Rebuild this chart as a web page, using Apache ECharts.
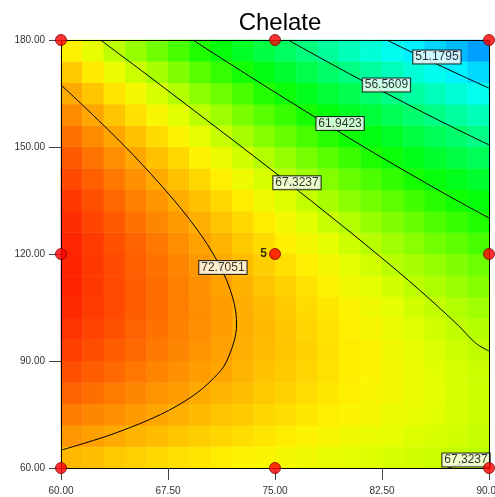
<!DOCTYPE html>
<html>
<head>
<meta charset="utf-8">
<script src="https://cdn.jsdelivr.net/npm/echarts@6/dist/echarts.min.js"></script>
<style>
html,body{margin:0;padding:0;background:#fff;}
#chart{width:495px;height:497px;}
</style>
</head>
<body>
<div id="chart"></div>
<script>
// ---- Data ----
const title = 'Chelate';
const xTicks = [60, 67.5, 75, 82.5, 90];
const yTicks = [60, 90, 120, 150, 180];
// heat-map cell centres (x: factor A, y: factor B)
const xCells = [60.75,62.25,63.75,65.25,66.75,68.25,69.75,71.25,72.75,74.25,75.75,77.25,78.75,80.25,81.75,83.25,84.75,86.25,87.75,89.25];
const yCells = [63,69,75,81,87,93,99,105,111,117,123,129,135,141,147,153,159,165,171,177];
// response values, one row per yCell (bottom to top), one value per xCell (left to right)
const zRows = [
 [72.1,71.8,71.4,71.1,70.8,70.5,70.3,70.0,69.7,69.5,69.2,69.0,68.7,68.5,68.3,68.1,67.9,67.7,67.5,67.3],
 [73.3,73.0,72.6,72.2,71.9,71.5,71.2,70.9,70.6,70.3,70.0,69.7,69.4,69.1,68.8,68.6,68.3,68.1,67.9,67.6],
 [74.4,74.0,73.6,73.2,72.8,72.4,72.0,71.6,71.3,70.9,70.6,70.2,69.9,69.6,69.3,68.9,68.7,68.4,68.1,67.8],
 [75.3,74.9,74.4,74.0,73.5,73.1,72.6,72.2,71.8,71.4,71.0,70.6,70.2,69.9,69.5,69.2,68.8,68.5,68.1,67.8],
 [76.1,75.6,75.1,74.6,74.1,73.6,73.1,72.7,72.2,71.7,71.3,70.9,70.4,70.0,69.6,69.2,68.8,68.4,68.1,67.7],
 [76.8,76.2,75.6,75.1,74.5,74.0,73.5,73.0,72.4,71.9,71.5,71.0,70.5,70.0,69.6,69.1,68.7,68.2,67.8,67.4],
 [77.2,76.6,76.0,75.4,74.8,74.2,73.7,73.1,72.5,72.0,71.5,70.9,70.4,69.9,69.4,68.9,68.4,67.9,67.4,67.0],
 [77.6,76.9,76.3,75.6,75.0,74.3,73.7,73.1,72.5,71.9,71.3,70.7,70.2,69.6,69.0,68.5,67.9,67.4,66.9,66.4],
 [77.8,77.0,76.3,75.6,75.0,74.3,73.6,72.9,72.3,71.6,71.0,70.4,69.7,69.1,68.5,67.9,67.3,66.8,66.2,65.6],
 [77.8,77.0,76.3,75.5,74.8,74.1,73.3,72.6,71.9,71.2,70.5,69.9,69.2,68.5,67.9,67.2,66.6,66.0,65.4,64.8],
 [77.7,76.9,76.1,75.3,74.5,73.7,72.9,72.2,71.4,70.7,69.9,69.2,68.5,67.8,67.1,66.4,65.7,65.0,64.4,63.7],
 [77.4,76.5,75.7,74.8,74.0,73.2,72.4,71.6,70.8,70.0,69.2,68.4,67.6,66.9,66.1,65.4,64.7,63.9,63.2,62.5],
 [77.0,76.1,75.2,74.3,73.4,72.5,71.7,70.8,70.0,69.1,68.3,67.5,66.6,65.8,65.0,64.3,63.5,62.7,61.9,61.2],
 [76.4,75.5,74.5,73.6,72.6,71.7,70.8,69.9,69.0,68.1,67.2,66.4,65.5,64.6,63.8,63.0,62.1,61.3,60.5,59.7],
 [75.7,74.7,73.7,72.7,71.7,70.8,69.8,68.8,67.9,67.0,66.0,65.1,64.2,63.3,62.4,61.5,60.6,59.8,58.9,58.1],
 [74.8,73.8,72.7,71.7,70.7,69.6,68.6,67.6,66.6,65.6,64.7,63.7,62.7,61.8,60.9,59.9,59.0,58.1,57.2,56.3],
 [73.8,72.7,71.6,70.5,69.4,68.4,67.3,66.3,65.2,64.2,63.2,62.1,61.1,60.1,59.2,58.2,57.2,56.2,55.3,54.3],
 [72.6,71.5,70.3,69.2,68.1,67.0,65.8,64.8,63.7,62.6,61.5,60.4,59.4,58.3,57.3,56.3,55.2,54.2,53.2,52.2],
 [71.3,70.1,68.9,67.7,66.6,65.4,64.2,63.1,62.0,60.8,59.7,58.6,57.5,56.4,55.3,54.2,53.1,52.1,51.0,50.0],
 [69.8,68.6,67.3,66.1,64.9,63.7,62.5,61.3,60.1,58.9,57.7,56.6,55.4,54.3,53.1,52.0,50.9,49.8,48.7,47.6]
];
// contour lines (points traced on the picture)
const contour72 = [[60,167.4],[61.97,160],[64.52,150],[66.85,140],[68.95,130],[70.67,120],[71.86,110],[72.31,100.4],[71.62,90],[70.65,85],[69.16,80],[66.98,75],[63.96,70],[61.68,67],[60,65.0]];
const contour67 = [[62.77,180],[66.11,170],[69.40,160],[72.68,150],[75.91,140],[79.07,130],[82.15,120],[85.10,110],[87.84,100],[89.07,95],[90,92.8]];
const contour67b = [[87.14,60],[88.65,62],[90,64.3]];
const contour62 = [[69.24,180],[73.15,170],[77.15,160],[81.24,150],[85.53,140],[87.75,135],[90,130.1]];
const contour57 = [[75.92,180],[80.46,170],[85.24,160],[87.73,155],[90,150.6]];
const contour51 = [[82.83,180],[85.41,175],[88.08,170],[90,166.5]];
// contour label anchors [x, y, text]
const contourLabels = [
  [86.35,175.2,'51.1795'],
  [82.81,167.4,'56.5609'],
  [79.56,156.6,'61.9423'],
  [76.54,140.0,'67.3237'],
  [71.35,116.2,'72.7051'],
  [88.39,62.25,'67.3237']
];
// design points
const designPts = [[60,60],[60,120],[60,180],[75,60],[75,180],[90,60],[90,120],[90,180]];
const centerPt = [[75,120,'5']];
// colour ramp: evenly spaced stops from colorMin to colorMax (blue -> cyan -> green -> yellow -> red)
const colorMin = 41, colorMax = 78.5;
const colorRamp = [
  '#0000ff','#001eff','#003dff','#005bff','#0079ff','#0098ff','#00b6ff','#00d4ff','#00f3ff',
  '#00ffec','#00ffcc','#00ffac','#00ff8c','#00ff6c','#00ff4c','#00ff2d','#00ff0d',
  '#18ff00','#41ff00','#6aff00','#93ff00','#bcff00','#e5ff00',
  '#fff300','#ffd300','#ffb300','#ff9300','#ff7300','#ff5200','#ff3200','#ff1200'
];

// ---- Chart ----
const FONT = 'Liberation Sans, Arial, sans-serif';
const heatData = [];
zRows.forEach((row, j) => row.forEach((v, i) => heatData.push([i, j, v])));

function contourSeries(pts) {
  return {
    type: 'line', data: pts, xAxisIndex: 0, yAxisIndex: 0,
    symbol: 'none', smooth: 0.35, silent: true, z: 3,
    lineStyle: { color: '#000', width: 1 }
  };
}

const chart = echarts.init(document.getElementById('chart'), null, { renderer: 'canvas' });
chart.setOption({
  animation: false,
  title: {
    text: title, left: 275, top: 6, textAlign: 'center',
    textStyle: { fontFamily: FONT, fontSize: 24, fontWeight: 'normal', color: '#000' }
  },
  grid: { left: 61, right: 6, top: 40, bottom: 29, containLabel: false, outerBoundsMode: 'none' },
  visualMap: {
    show: false, seriesIndex: 0, dimension: 2, min: colorMin, max: colorMax,
    inRange: { color: colorRamp }
  },
  xAxis: [
    {
      type: 'value', min: xTicks[0], max: xTicks[xTicks.length - 1], interval: 7.5, position: 'bottom', z: 10,
      axisLine: { show: true, lineStyle: { color: '#000', width: 1 } },
      axisTick: { show: true, length: 12, lineStyle: { color: '#444' } },
      axisLabel: { formatter: v => v.toFixed(2), fontFamily: FONT, fontSize: 10, color: '#333', margin: 18 },
      splitLine: { show: false }
    },
    { type: 'category', data: xCells, show: false },
    {
      type: 'value', min: xTicks[0], max: xTicks[xTicks.length - 1], position: 'top', z: 10,
      axisLine: { show: true, lineStyle: { color: '#000', width: 1 } },
      axisTick: { show: false }, axisLabel: { show: false }, splitLine: { show: false }
    }
  ],
  yAxis: [
    {
      type: 'value', min: yTicks[0], max: yTicks[yTicks.length - 1], interval: 30, position: 'left', z: 10,
      axisLine: { show: true, lineStyle: { color: '#000', width: 1 } },
      axisTick: { show: true, length: 12, lineStyle: { color: '#444' } },
      axisLabel: { formatter: v => v.toFixed(2), fontFamily: FONT, fontSize: 10, color: '#333', margin: 16 },
      splitLine: { show: false }
    },
    { type: 'category', data: yCells, show: false },
    {
      type: 'value', min: yTicks[0], max: yTicks[yTicks.length - 1], position: 'right', z: 10,
      axisLine: { show: true, lineStyle: { color: '#000', width: 1 } },
      axisTick: { show: false }, axisLabel: { show: false }, splitLine: { show: false }
    }
  ],
  series: [
    {
      type: 'heatmap', xAxisIndex: 1, yAxisIndex: 1, data: heatData, silent: true, z: 1,
      itemStyle: { borderWidth: 0 }, emphasis: { disabled: true }
    },
    contourSeries(contour72),
    contourSeries(contour67),
    contourSeries(contour67b),
    contourSeries(contour62),
    contourSeries(contour57),
    contourSeries(contour51),
    {
      type: 'scatter', data: contourLabels, xAxisIndex: 0, yAxisIndex: 0, symbolSize: 0, silent: true, z: 6,
      label: {
        show: true, position: 'inside', formatter: p => p.value[2],
        fontFamily: FONT, fontSize: 12, color: '#000', lineHeight: 12,
        backgroundColor: '#fff', borderColor: '#000', borderWidth: 1, padding: [1, 2, 0, 2]
      }
    },
    {
      type: 'scatter', data: designPts, xAxisIndex: 0, yAxisIndex: 0, symbolSize: 11, clip: false, silent: true, z: 12,
      itemStyle: { color: '#ff0000', borderColor: '#7a0000', borderWidth: 1 }
    },
    {
      type: 'scatter', data: centerPt, xAxisIndex: 0, yAxisIndex: 0, symbolSize: 11, clip: false, silent: true, z: 12,
      itemStyle: { color: '#ff0000', borderColor: '#7a0000', borderWidth: 1 },
      label: { show: true, position: 'left', distance: 2, formatter: p => p.value[2], fontFamily: FONT, fontSize: 12, fontWeight: 'bold', color: '#000' }
    }
  ]
});
</script>
</body>
</html>
